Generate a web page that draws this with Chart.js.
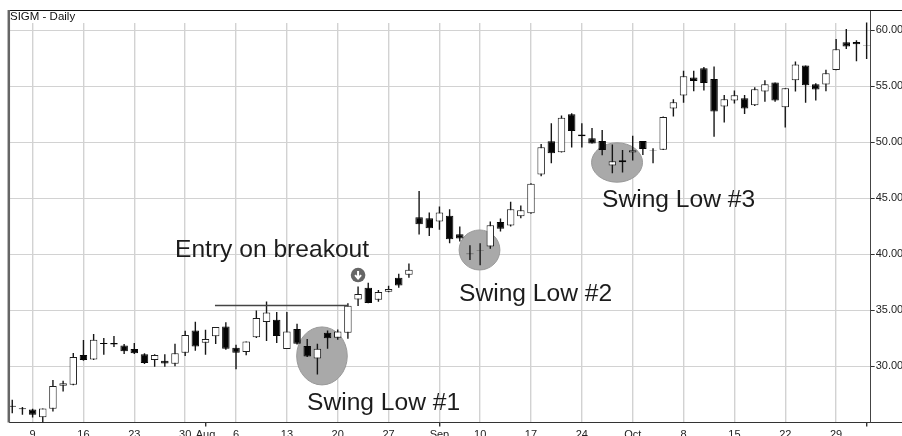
<!DOCTYPE html>
<html><head><meta charset="utf-8">
<style>html,body{margin:0;padding:0;background:#fff}canvas{display:block}</style>
<script src="https://cdn.jsdelivr.net/npm/chart.js@4"></script>
</head><body><canvas id="c" width="902" height="436"></canvas>
<script>
const opens=[26.45,26.22,26.12,25.41,26.18,28.24,28.33,30.98,30.59,32.05,32.05,31.84,31.51,31.04,30.53,30.47,30.2,31.19,33.18,32.08,32.65,33.54,31.63,31.25,32.56,33.93,34.14,31.51,33.3,31.78,30.68,32.97,32.53,32.97,35.95,37.0,35.92,36.64,37.89,38.16,43.3,43.21,42.91,43.42,41.78,40.06,40.33,40.68,42.88,42.55,43.39,43.66,47.11,50.09,49.11,52.5,50.69,50.36,50.12,47.91,48.39,49.08,50.12,49.27,49.34,53.01,54.17,55.78,56.61,55.66,53.19,53.72,53.93,53.31,54.53,55.33,53.13,55.54,56.85,55.18,55.15,56.46,58.94,58.97,58.62];
const closes=[26.35,26.14,25.65,26.21,28.21,28.45,30.8,30.53,32.35,31.97,31.93,31.31,31.13,30.26,30.98,30.23,31.13,32.77,31.75,32.42,33.48,31.54,31.19,32.2,34.29,34.79,32.68,33.09,31.99,30.86,31.54,32.47,33.09,35.39,36.43,35.63,36.61,36.88,37.2,38.6,42.67,42.31,43.71,41.33,41.39,39.98,40.37,42.58,42.26,44.01,43.92,46.28,49.55,49.02,52.2,51.01,50.54,49.88,49.31,48.3,48.21,49.29,49.4,49.31,52.26,53.57,55.9,55.48,55.3,52.74,53.84,54.2,53.01,54.74,55.18,53.72,54.83,56.94,55.09,54.71,56.17,58.31,58.55,58.76,58.66];
const highs=[26.99,26.33,26.18,26.21,28.74,28.68,31.16,32.32,32.86,32.5,32.68,31.96,32.05,31.13,31.04,31.04,31.99,33.15,33.96,33.25,33.48,33.9,31.9,32.2,34.97,35.77,34.82,34.82,33.78,32.41,31.99,33.18,33.27,35.6,37.11,37.44,36.79,37.17,38.25,39.17,45.65,43.71,44.25,44.01,42.46,40.8,40.97,42.91,43.18,44.67,44.34,46.34,49.85,51.7,52.38,52.59,51.7,51.28,51.1,49.79,49.31,50.57,50.12,49.46,52.29,53.84,56.4,56.4,56.73,56.76,54.23,54.62,54.23,54.92,55.54,55.33,54.83,57.21,56.85,55.27,56.49,59.23,60.13,59.12,60.7];
const lows=[25.77,25.65,25.4,24.96,25.94,27.73,28.27,30.47,30.53,31.0,31.69,31.07,31.07,30.17,29.94,29.94,29.97,30.89,31.37,31.0,31.97,31.45,29.7,30.95,32.5,32.23,32.05,31.51,31.93,30.8,29.25,31.54,32.35,32.44,35.36,35.6,35.74,36.6,37.0,37.89,41.75,41.63,42.17,40.97,41.12,39.48,39.0,40.47,42.02,42.46,43.21,43.6,46.96,48.12,49.08,49.52,49.52,49.88,48.84,47.23,47.29,48.36,48.87,48.12,49.31,52.29,53.54,54.56,54.62,50.5,51.76,53.46,52.53,53.25,53.63,53.63,51.31,54.53,53.54,53.72,54.56,56.43,58.34,57.24,57.45];
const xTickIndex=[2,7,12,17,19,22,27,32,37,42,46,51,56,61,66,71,76,81,84];
const xTickLabels=['9','16','23','30','Aug','6','13','20','27','Sep','10','17','24','Oct','8','15','22','29',''];
const yTickValues=[30,35,40,45,50,55,60];
const barIndex=opens.map((_,i)=>i);
const breakoutX=[19.93,33.0];
const breakoutY=[35.4,35.4];
const swingCircles=[{x:30.45,y:30.9,rx:25.3,ry:29},{x:45.94,y:40.37,rx:20.4,ry:20},{x:59.46,y:48.19,rx:25.5,ry:19.7}];
const notes=[{t:'Entry on breakout',x:175,y:257},{t:'Swing Low #1',x:307,y:410},{t:'Swing Low #2',x:459,y:301},{t:'Swing Low #3',x:602,y:207}];
const entryMark={x:34.0,y:38.13};

const noGrid=new Set(['Aug','']);
const withTick=new Set(['Aug','Sep','']);
const labelAt=v=>xTickLabels[xTickIndex.indexOf(v)];

const decor={id:'decor',
 beforeDatasetsDraw(ch){
  const {ctx,chartArea:a,scales:{x,y}}=ch;
  ctx.save();
  ctx.fillStyle='#fff';ctx.fillRect(a.left,a.top,a.right-a.left-1,13);
  ctx.fillStyle='#a9a9a9';ctx.strokeStyle='#999';ctx.lineWidth=1;
  swingCircles.forEach(c=>{ctx.beginPath();ctx.ellipse(x.getPixelForValue(c.x),y.getPixelForValue(c.y),c.rx,c.ry,0,0,Math.PI*2);ctx.fill();ctx.stroke();});
  ctx.restore();
 },
 afterDatasetsDraw(ch){
  const {ctx,chartArea:a,scales:{x,y},width}=ch;
  ctx.save();
  ctx.fillStyle='#1c1c1c';ctx.textAlign='left';ctx.textBaseline='alphabetic';
  ctx.font='24.6px "Liberation Sans"';
  notes.forEach(n=>ctx.fillText(n.t,n.x,n.y));
  ctx.font='11.5px "Liberation Sans"';ctx.fillStyle='#111';
  ctx.fillText('SIGM - Daily',10,20);
  const mx=x.getPixelForValue(entryMark.x),my=y.getPixelForValue(entryMark.y);
  ctx.fillStyle='#666';ctx.beginPath();ctx.arc(mx,my,7.3,0,Math.PI*2);ctx.fill();
  ctx.strokeStyle='#fff';ctx.lineWidth=2;ctx.beginPath();ctx.moveTo(mx,my-4);ctx.lineTo(mx,my+3);ctx.moveTo(mx-3,my);ctx.lineTo(mx,my+3.5);ctx.lineTo(mx+3,my);ctx.stroke();
  ctx.strokeStyle='#111';ctx.lineWidth=1;ctx.beginPath();ctx.moveTo(a.left-1,a.top+.5);ctx.lineTo(width,a.top+.5);ctx.stroke();
  ctx.strokeStyle='#333';ctx.beginPath();ctx.moveTo(a.right,a.bottom);ctx.lineTo(width,a.bottom);ctx.stroke();
  ctx.strokeStyle='#666';ctx.lineWidth=2.5;ctx.beginPath();ctx.moveTo(a.left-.2,a.top);ctx.lineTo(a.left-.2,a.bottom);ctx.stroke();
  ctx.restore();
 }};

new Chart(document.getElementById('c'),{
 type:'bar',
 data:{datasets:[
  {label:'Wick',order:3,grouped:false,barThickness:1.4,borderWidth:0,inflateAmount:0,backgroundColor:'#161616',
   data:barIndex.map(i=>({x:i,y:[lows[i],highs[i]]}))},
  {label:'Body',order:2,grouped:false,barThickness:7.5,borderWidth:1,borderSkipped:false,inflateAmount:0,
   borderColor:barIndex.map(i=>closes[i]>=opens[i]?'#1e1e1e':'#050505'),
   backgroundColor:barIndex.map(i=>closes[i]>=opens[i]?'#ffffff':'#050505'),
   data:barIndex.map(i=>({x:i,y:[opens[i],closes[i]]}))},
  {label:'Breakout',type:'line',order:1,borderColor:'#444',borderWidth:1.5,pointRadius:0,
   data:breakoutX.map((v,i)=>({x:v,y:breakoutY[i]}))}
 ]},
 options:{responsive:false,animation:false,
  layout:{padding:{left:9,top:10,right:0,bottom:0}},
  plugins:{legend:{display:false},tooltip:{enabled:false}},
  scales:{
   x:{type:'linear',min:-0.32,max:84.4,offset:false,
    afterBuildTicks(s){s.ticks=xTickIndex.map(value=>({value}));},
    afterFit(s){s.height=13.5;},
    ticks:{autoSkip:false,maxRotation:0,minRotation:0,padding:2,color:'#222',font:{family:'"Liberation Sans"',size:11},
     callback:v=>labelAt(v)},
    border:{color:'#333',width:1},
    grid:{offset:false,tickLength:4,lineWidth:1.4,
     color:c=>(c.tick&&noGrid.has(labelAt(c.tick.value)))?'rgba(0,0,0,0)':'#d2d2d2',
     tickColor:c=>(c.tick&&withTick.has(labelAt(c.tick.value)))?'#333':'rgba(0,0,0,0)'}},
   y:{type:'linear',position:'right',min:24.95,max:61.82,
    afterBuildTicks(s){s.ticks=yTickValues.map(value=>({value}));},
    afterFit(s){s.width=31.3;},
    ticks:{padding:1,color:'#222',font:{family:'"Liberation Sans"',size:11},callback:v=>v.toFixed(2)},
    border:{color:'#444',width:1},
    grid:{tickLength:4,lineWidth:1,color:'#d2d2d2',tickColor:'#333'}}
  }},
 plugins:[decor]});
</script></body></html>
